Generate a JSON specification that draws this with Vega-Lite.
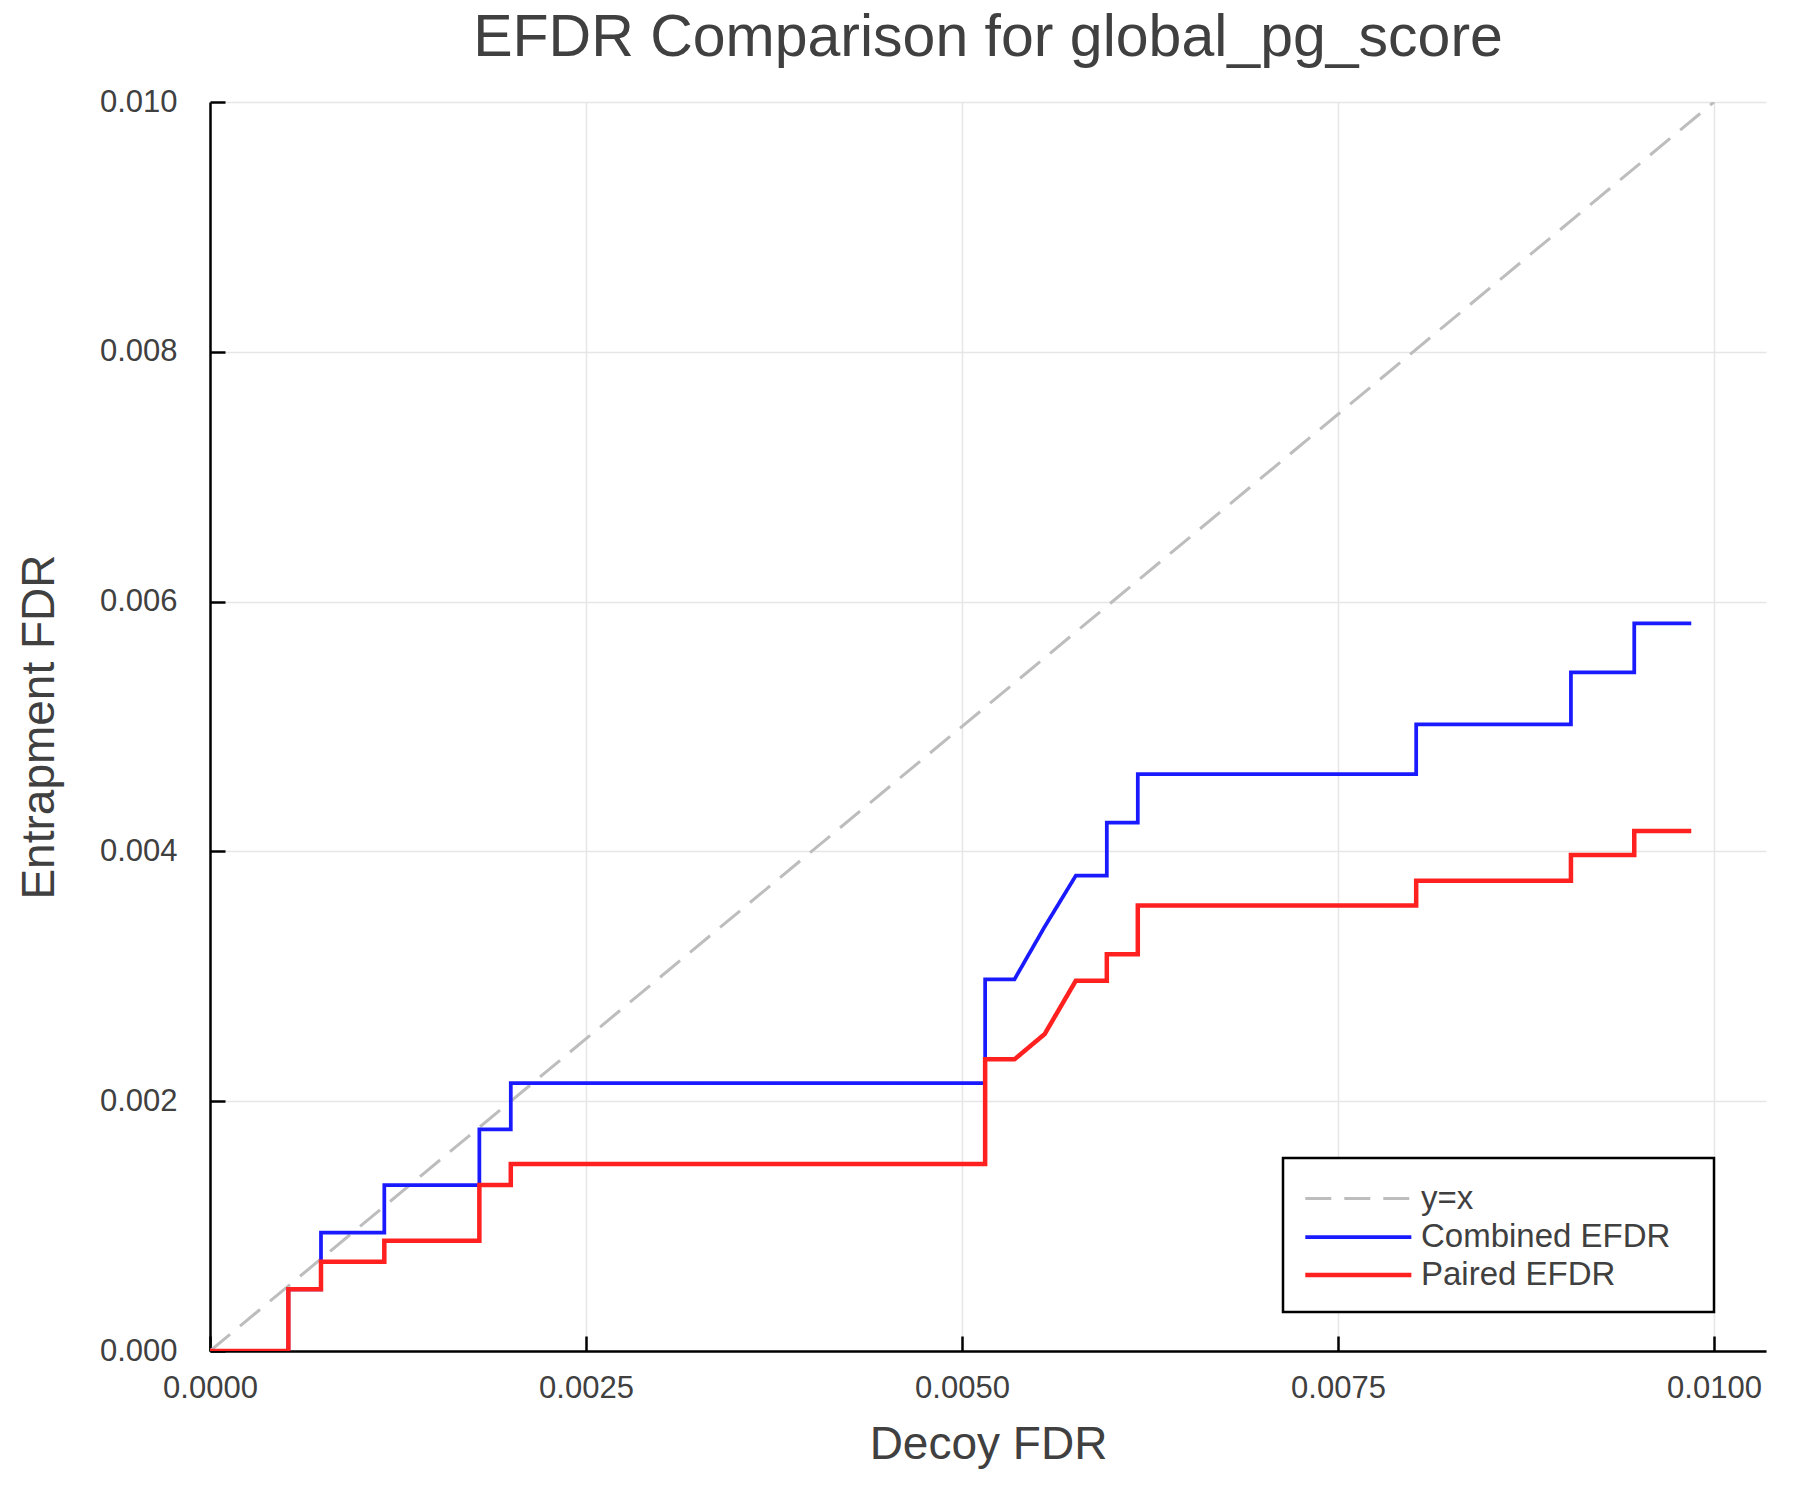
{
  "$schema": "https://vega.github.io/schema/vega-lite/v6.json",
  "autosize": {"type": "none"},
  "padding": {"left": 210, "top": 102, "right": 34, "bottom": 149},
  "width": 1556,
  "height": 1249,
  "background": "white",
  "title": {
    "text": "EFDR Comparison for global_pg_score",
    "fontSize": 59,
    "fontWeight": "normal",
    "color": "#404040",
    "anchor": "middle",
    "offset": 18
  },
  "config": {
    "font": "Liberation Sans",
    "view": {"stroke": null},
    "axis": {
      "labelFont": "Liberation Sans",
      "titleFont": "Liberation Sans",
      "labelColor": "#404040",
      "titleColor": "#404040",
      "titleFontWeight": "normal",
      "domainColor": "black",
      "domainWidth": 2.5,
      "tickColor": "black",
      "tickWidth": 2.5,
      "tickSize": -15,
      "gridColor": "#e6e6e6",
      "gridWidth": 1.5
    },
    "legend": {
      "labelFont": "Liberation Sans",
      "labelColor": "#404040"
    }
  },
  "data": {
    "values": [
      {"series": "y=x", "i": 0, "x": 0, "y": 0},
      {"series": "y=x", "i": 1, "x": 0.01, "y": 0.01},

      {"series": "Combined EFDR", "i": 0, "x": 0, "y": 0},
      {"series": "Combined EFDR", "i": 1, "x": 0.000521, "y": 0},
      {"series": "Combined EFDR", "i": 2, "x": 0.000521, "y": 0.000494},
      {"series": "Combined EFDR", "i": 3, "x": 0.000738, "y": 0.000494},
      {"series": "Combined EFDR", "i": 4, "x": 0.000738, "y": 0.000947},
      {"series": "Combined EFDR", "i": 5, "x": 0.001159, "y": 0.000947},
      {"series": "Combined EFDR", "i": 6, "x": 0.001159, "y": 0.001329},
      {"series": "Combined EFDR", "i": 7, "x": 0.001791, "y": 0.001329},
      {"series": "Combined EFDR", "i": 8, "x": 0.001791, "y": 0.001775},
      {"series": "Combined EFDR", "i": 9, "x": 0.002, "y": 0.001775},
      {"series": "Combined EFDR", "i": 10, "x": 0.002, "y": 0.002145},
      {"series": "Combined EFDR", "i": 11, "x": 0.005154, "y": 0.002145},
      {"series": "Combined EFDR", "i": 12, "x": 0.005154, "y": 0.002976},
      {"series": "Combined EFDR", "i": 13, "x": 0.005349, "y": 0.002976},
      {"series": "Combined EFDR", "i": 14, "x": 0.00555, "y": 0.003397},
      {"series": "Combined EFDR", "i": 15, "x": 0.005757, "y": 0.003806},
      {"series": "Combined EFDR", "i": 16, "x": 0.005963, "y": 0.003806},
      {"series": "Combined EFDR", "i": 17, "x": 0.005963, "y": 0.00423},
      {"series": "Combined EFDR", "i": 18, "x": 0.006169, "y": 0.00423},
      {"series": "Combined EFDR", "i": 19, "x": 0.006169, "y": 0.004619},
      {"series": "Combined EFDR", "i": 20, "x": 0.00802, "y": 0.004619},
      {"series": "Combined EFDR", "i": 21, "x": 0.00802, "y": 0.005018},
      {"series": "Combined EFDR", "i": 22, "x": 0.009049, "y": 0.005018},
      {"series": "Combined EFDR", "i": 23, "x": 0.009049, "y": 0.005434},
      {"series": "Combined EFDR", "i": 24, "x": 0.00947, "y": 0.005434},
      {"series": "Combined EFDR", "i": 25, "x": 0.00947, "y": 0.005826},
      {"series": "Combined EFDR", "i": 26, "x": 0.009849, "y": 0.005826},

      {"series": "Paired EFDR", "i": 0, "x": 0, "y": 0},
      {"series": "Paired EFDR", "i": 1, "x": 0.000521, "y": 0},
      {"series": "Paired EFDR", "i": 2, "x": 0.000521, "y": 0.000494},
      {"series": "Paired EFDR", "i": 3, "x": 0.000738, "y": 0.000494},
      {"series": "Paired EFDR", "i": 4, "x": 0.000738, "y": 0.000715},
      {"series": "Paired EFDR", "i": 5, "x": 0.001159, "y": 0.000715},
      {"series": "Paired EFDR", "i": 6, "x": 0.001159, "y": 0.000883},
      {"series": "Paired EFDR", "i": 7, "x": 0.001791, "y": 0.000883},
      {"series": "Paired EFDR", "i": 8, "x": 0.001791, "y": 0.001329},
      {"series": "Paired EFDR", "i": 9, "x": 0.002, "y": 0.001329},
      {"series": "Paired EFDR", "i": 10, "x": 0.002, "y": 0.001497},
      {"series": "Paired EFDR", "i": 11, "x": 0.005154, "y": 0.001497},
      {"series": "Paired EFDR", "i": 12, "x": 0.005154, "y": 0.002335},
      {"series": "Paired EFDR", "i": 13, "x": 0.005349, "y": 0.002335},
      {"series": "Paired EFDR", "i": 14, "x": 0.00555, "y": 0.002538},
      {"series": "Paired EFDR", "i": 15, "x": 0.005757, "y": 0.002965},
      {"series": "Paired EFDR", "i": 16, "x": 0.005963, "y": 0.002965},
      {"series": "Paired EFDR", "i": 17, "x": 0.005963, "y": 0.003176},
      {"series": "Paired EFDR", "i": 18, "x": 0.006169, "y": 0.003176},
      {"series": "Paired EFDR", "i": 19, "x": 0.006169, "y": 0.003567},
      {"series": "Paired EFDR", "i": 20, "x": 0.00802, "y": 0.003567},
      {"series": "Paired EFDR", "i": 21, "x": 0.00802, "y": 0.003765},
      {"series": "Paired EFDR", "i": 22, "x": 0.009049, "y": 0.003765},
      {"series": "Paired EFDR", "i": 23, "x": 0.009049, "y": 0.003971},
      {"series": "Paired EFDR", "i": 24, "x": 0.00947, "y": 0.003971},
      {"series": "Paired EFDR", "i": 25, "x": 0.00947, "y": 0.004163},
      {"series": "Paired EFDR", "i": 26, "x": 0.009849, "y": 0.004163}
    ]
  },
  "mark": {"type": "line", "clip": true, "strokeCap": "butt", "strokeJoin": "miter"},
  "encoding": {
    "x": {
      "field": "x",
      "type": "quantitative",
      "scale": {"domain": [0, 0.010346], "nice": false, "zero": false},
      "axis": {
        "title": "Decoy FDR",
        "values": [0, 0.0025, 0.005, 0.0075, 0.01],
        "format": ".4f",
        "labelFontSize": 31,
        "titleFontSize": 46,
        "labelPadding": 37,
        "titlePadding": 19,
        "labelFlush": false
      }
    },
    "y": {
      "field": "y",
      "type": "quantitative",
      "scale": {"domain": [0, 0.01], "nice": false, "zero": false},
      "axis": {
        "title": "Entrapment FDR",
        "values": [0, 0.002, 0.004, 0.006, 0.008, 0.01],
        "format": ".3f",
        "labelFontSize": 31,
        "titleFontSize": 46,
        "labelPadding": 48,
        "titlePadding": 36,
        "labelFlush": false
      }
    },
    "order": {"field": "i", "type": "quantitative"},
    "color": {
      "field": "series",
      "type": "nominal",
      "sort": ["y=x", "Combined EFDR", "Paired EFDR"],
      "scale": {
        "domain": ["y=x", "Combined EFDR", "Paired EFDR"],
        "range": ["#bdbdbd", "#1a1aff", "#ff2020"]
      },
      "legend": {
        "title": ".",
        "titleOrient": "right",
        "titleColor": "rgba(0,0,0,0)",
        "titleFontSize": 33,
        "titlePadding": 14,
        "orient": "none",
        "legendX": 1073,
        "legendY": 1056,
        "symbolType": "M-1,0H4.67",
        "symbolSize": 1400,
        "labelFontSize": 33,
        "labelOffset": 76,
        "labelLimit": 500,
        "padding": 20,
        "rowPadding": 0,
        "strokeColor": "black",
        "fillColor": "white",
        "encode": {
          "legend": {"update": {"strokeWidth": {"value": 2.5}}}
        }
      }
    },
    "strokeDash": {
      "field": "series",
      "type": "nominal",
      "sort": ["y=x", "Combined EFDR", "Paired EFDR"],
      "scale": {
        "domain": ["y=x", "Combined EFDR", "Paired EFDR"],
        "range": [[26, 13], [1, 0], [1, 0]]
      }
    },
    "strokeWidth": {
      "field": "series",
      "type": "nominal",
      "sort": ["y=x", "Combined EFDR", "Paired EFDR"],
      "scale": {
        "domain": ["y=x", "Combined EFDR", "Paired EFDR"],
        "range": [3, 4.5, 4.5]
      }
    }
  }
}
